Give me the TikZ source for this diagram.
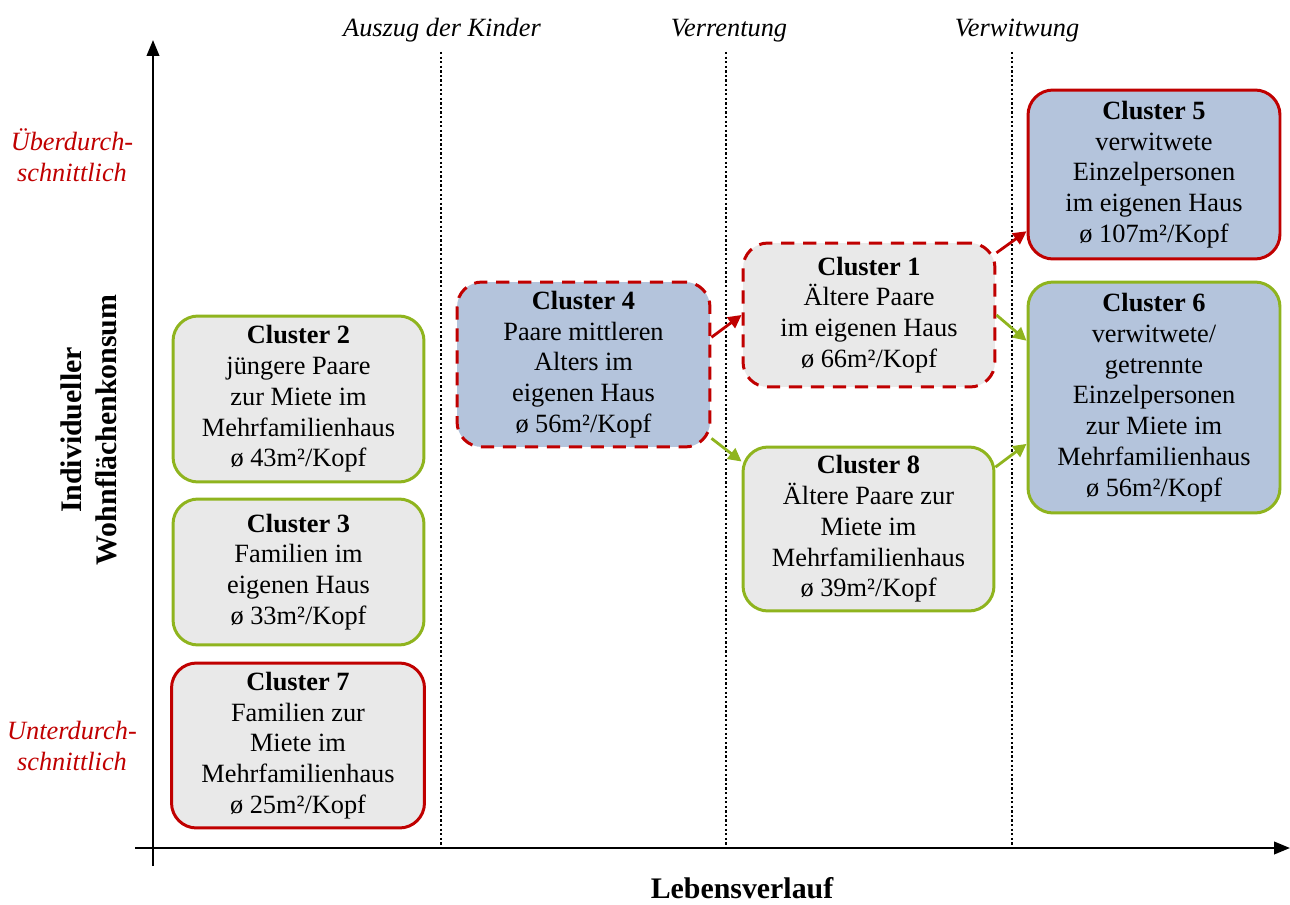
\documentclass[tikz,border=0pt]{standalone}
\usepackage{fontspec}
\setmainfont{Liberation Serif}
\usetikzlibrary{arrows.meta}
\definecolor{cred}{RGB}{192,0,0}
\definecolor{cgreen}{RGB}{143,180,30}
\definecolor{cblue}{RGB}{180,196,220}
\definecolor{cgray}{RGB}{233,233,233}
\begin{document}
\begin{tikzpicture}[x=0.02cm,y=-0.02cm,
  box/.style={rounded corners=0.5cm, line width=1.7pt, align=center, inner sep=0pt,
    font=\fontsize{15}{17.5}\selectfont},
  redbox/.style={box, draw=cred},
  greenbox/.style={box, draw=cgreen},
  dashbox/.style={box, draw=cred, dash pattern=on 7.5pt off 5pt},
  grayfill/.style={fill=cgray},
  bluefill/.style={fill=cblue},
  conn/.style={line width=1.6pt, -{Triangle[length=7.5pt,width=7.5pt]}},
  axis/.style={line width=1.4pt, -{Triangle[length=9pt,width=7pt]}},
  dotline/.style={line width=1.5pt, dash pattern=on 1.3pt off 1.3pt},
  phase/.style={font=\fontsize{15}{17.5}\selectfont\itshape, anchor=base},
  level/.style={font=\fontsize{15}{17.5}\selectfont\itshape, text=cred, align=center},
  axlabel/.style={font=\fontsize{17}{20}\selectfont\bfseries, align=center}
]
\useasboundingbox (0,0) rectangle (1290,905);

% phase separators
\coordinate (d1t) at (441,52);  \coordinate (d1b) at (441,845);
\coordinate (d2t) at (726,52);  \coordinate (d2b) at (726,845);
\coordinate (d3t) at (1012,52); \coordinate (d3b) at (1012,845);
\draw[dotline] (d1t) -- (d1b);
\draw[dotline] (d2t) -- (d2b);
\draw[dotline] (d3t) -- (d3b);

\node[phase] (p1) at (442,37) {Auszug der Kinder};
\node[phase] (p2) at (729,37) {Verrentung};
\node[phase] (p3) at (1017,37) {Verwitwung};

% axes
\coordinate (yb) at (153,866); \coordinate (yt) at (153,40);
\coordinate (xl) at (135,848); \coordinate (xr) at (1290,848);
\draw[axis] (yb) -- (yt);
\draw[axis] (xl) -- (xr);

\node[level] (hi) at (72,155) {Überdurch-\\schnittlich};
\node[level] (lo) at (72,746) {Unterdurch-\\schnittlich};
\node[axlabel, rotate=90] (ylab) at (89,430) {Individueller\\Wohnflächenkonsum};
\node[axlabel] (xlab) at (742,888) {Lebensverlauf};

% clusters
\node[greenbox, grayfill, minimum width=5.02cm, minimum height=3.32cm] (c2) at (298.5,399)
  {\textbf{Cluster 2}\\jüngere Paare\\zur Miete im\\Mehrfamilienhaus\\ø 43m²/Kopf};
\node[greenbox, grayfill, minimum width=5.02cm, minimum height=2.92cm] (c3) at (298.5,572)
  {\textbf{Cluster 3}\\Familien im\\eigenen Haus\\ø 33m²/Kopf};
\node[redbox, grayfill, minimum width=5.06cm, minimum height=3.30cm] (c7) at (298,745.5)
  {\textbf{Cluster 7}\\Familien zur\\Miete im\\Mehrfamilienhaus\\ø 25m²/Kopf};
\node[dashbox, bluefill, minimum width=5.06cm, minimum height=3.30cm] (c4) at (583.5,364.5)
  {\textbf{Cluster 4}\\Paare mittleren\\Alters im\\eigenen Haus\\ø 56m²/Kopf};
\node[dashbox, grayfill, minimum width=5.04cm, minimum height=2.88cm] (c1) at (869,315)
  {\textbf{Cluster 1}\\Ältere Paare\\im eigenen Haus\\ø 66m²/Kopf};
\node[greenbox, grayfill, minimum width=5.02cm, minimum height=3.28cm] (c8) at (868.5,529)
  {\textbf{Cluster 8}\\Ältere Paare zur\\Miete im\\Mehrfamilienhaus\\ø 39m²/Kopf};
\node[redbox, bluefill, minimum width=5.04cm, minimum height=3.38cm] (c5) at (1154,174.5)
  {\textbf{Cluster 5}\\verwitwete\\Einzelpersonen\\im eigenen Haus\\ø 107m²/Kopf};
\node[greenbox, bluefill, minimum width=5.04cm, minimum height=4.62cm] (c6) at (1154,397.5)
  {\textbf{Cluster 6}\\verwitwete/\\getrennte\\Einzelpersonen\\zur Miete im\\Mehrfamilienhaus\\ø 56m²/Kopf};

% transitions
\draw[conn, cred] (c4.12) -- (c1.west);
\draw[conn, cgreen] (c4.-30) -- (c8.152);
\draw[conn, cred] (c1.26) -- (c5.204);
\draw[conn, cgreen] (c1.east) -- (c6.156);
\draw[conn, cgreen] (c8.26) -- (c6.200);
\end{tikzpicture}
\end{document}
